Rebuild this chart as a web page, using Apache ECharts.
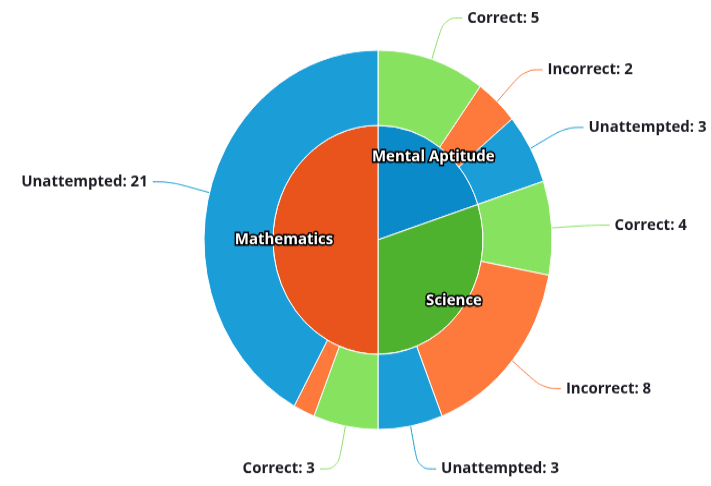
<!DOCTYPE html>
<html>
<head>
<meta charset="utf-8">
<script src="https://cdn.jsdelivr.net/npm/echarts@6/dist/echarts.min.js"></script>
<style>
html,body{margin:0;padding:0;background:#fff;overflow:hidden;}
#wrap{width:711px;height:486px;overflow:hidden;}
#chart{width:711px;height:446px;transform:scaleY(1.09);transform-origin:0 0;}
</style>
</head>
<body>
<div id="wrap"><div id="chart"></div></div>
<script>
// Data
const subjects = ['Mental Aptitude', 'Science', 'Mathematics'];
const outcomes = ['Correct', 'Incorrect', 'Unattempted'];
const correct = [5, 4, 3];
const incorrect = [2, 8, 1];
const unattempted = [3, 3, 21];

const subjectColors = ['#0a8ac8', '#4eb22f', '#e8541c'];
const outcomeColors = ['#87e260', '#fd7a3c', '#1b9dd8'];

const outcomeValues = [correct, incorrect, unattempted];
const innerData = subjects.map((s, i) => ({
  name: s,
  value: correct[i] + incorrect[i] + unattempted[i],
  itemStyle: { color: subjectColors[i] }
}));
const outerData = [];
subjects.forEach((s, i) => {
  outcomes.forEach((o, j) => {
    const v = outcomeValues[j][i];
    const item = { name: o, value: v, itemStyle: { color: outcomeColors[j] }, labelLine: { lineStyle: { color: outcomeColors[j] } } };
    if (s === 'Mathematics' && o === 'Incorrect') {
      item.label = { show: false };
      item.labelLine = { show: false };
    }
    outerData.push(item);
  });
});

const chart = echarts.init(document.getElementById('chart'));
const center = [378, 220];
chart.setOption({
  animation: false,
  series: [
    {
      type: 'pie',
      center: center,
      radius: [0, 105],
      startAngle: 90,
      clockwise: true,
      silent: true,
      data: innerData,
      itemStyle: { borderColor: '#ffffff', borderWidth: 1 },
      label: { show: false },
      labelLine: { show: false }
    },
    {
      type: 'pie',
      center: center,
      radius: [105, 174],
      startAngle: 90,
      clockwise: true,
      silent: true,
      data: outerData,
      itemStyle: { borderColor: '#ffffff', borderWidth: 1 },
      label: {
        show: true,
        position: 'outside',
        formatter: '{b}: {c}',
        fontFamily: 'Open Sans',
        fontWeight: 'bold',
        fontSize: 15,
        color: '#1c1c24',
        overflow: 'none'
      },
      labelLine: { show: true, length: 40, length2: 18, smooth: 0.4, lineStyle: { width: 1 } }
    },
    {
      type: 'pie',
      center: center,
      radius: [0, 182],
      startAngle: 90,
      clockwise: true,
      silent: true,
      z: 5,
      data: innerData.map(d => ({ name: d.name, value: d.value })),
      itemStyle: { color: 'rgba(0,0,0,0)' },
      label: {
        show: true,
        position: 'inside',
        formatter: '{b}',
        fontFamily: 'Open Sans',
        fontWeight: 'bold',
        fontSize: 15,
        color: '#ffffff',
        textBorderColor: '#000000',
        textBorderWidth: 3
      },
      labelLine: { show: false }
    }
  ]
});
</script>
</body>
</html>
